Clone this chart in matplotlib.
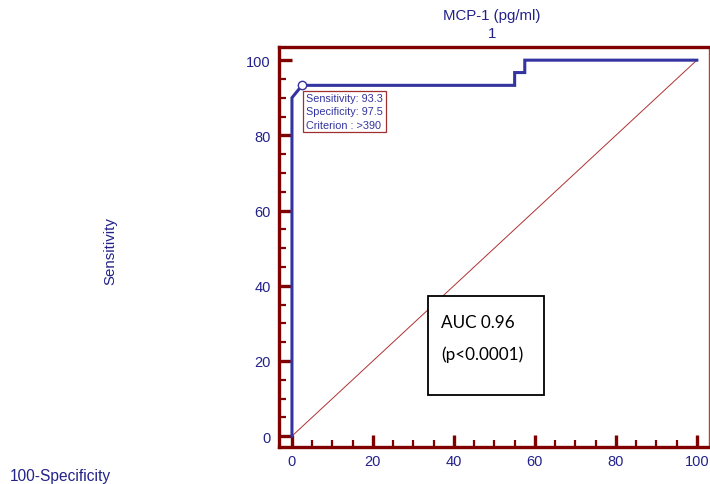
import numpy as np
import matplotlib.pyplot as plt
from matplotlib.ticker import MultipleLocator
from matplotlib.patches import Rectangle

plt.rcParams['font.family'] = ['Liberation Sans', 'DejaVu Sans']

# ROC curve points (100-Specificity, Sensitivity)
fpr = [0, 0, 2.5, 55, 55, 57.5, 57.5, 100]
tpr = [0, 90, 93.3, 93.3, 96.7, 96.7, 100, 100]

# optimal criterion point
crit_x = 2.5
crit_y = 93.3
crit_lines = ["Sensitivity: 93.3", "Specificity: 97.5", "Criterion : >390"]
auc_lines = ["AUC 0.96", "(p<0.0001)"]

blue = '#3434A0'
dred = '#800000'
lab_col = '#22228A'

fig = plt.figure(figsize=(7.1, 4.85), dpi=100)
ax = fig.add_axes([279/710, 1 - 448/485, 430/710, 400/485])

# diagonal reference line
ax.plot([0, 100], [0, 100], color='#B03030', lw=0.7)
# ROC curve
ax.plot(fpr, tpr, color=blue, lw=2.2, solid_joinstyle='miter')
ax.plot(crit_x, crit_y, 'o', mfc='white', mec=blue, ms=6, mew=1.0)

ax.set_xlim(-3.2, 103)
ax.set_ylim(-2.9, 103.5)

ax.xaxis.set_major_locator(MultipleLocator(20))
ax.xaxis.set_minor_locator(MultipleLocator(5))
ax.yaxis.set_major_locator(MultipleLocator(20))
ax.yaxis.set_minor_locator(MultipleLocator(5))
ax.tick_params(axis='both', which='major', direction='in', length=9, width=2.4,
               color=dred, labelcolor=lab_col, labelsize=10.5, pad=6)
ax.tick_params(axis='both', which='minor', direction='in', length=5, width=1.6, color=dred)
ax.tick_params(axis='x', which='major', pad=5)
ax.tick_params(top=False, right=False, which='both')

for s in ['left', 'bottom', 'top']:
    ax.spines[s].set_color(dred)
    ax.spines[s].set_linewidth(2.4)
ax.spines['right'].set_color('#A04848')
ax.spines['right'].set_linewidth(1.0)

# criterion annotation box
ax.text(3.5, 91.2, "\n".join(crit_lines), color=blue, fontsize=7.8, va='top', ha='left',
        linespacing=1.4,
        bbox=dict(boxstyle='square,pad=0.25', fc='white', ec='#A03030', lw=0.9))

# AUC box
ax.add_patch(Rectangle((33.6, 10.9), 28.6, 26.3, fc='white', ec='black', lw=1.3, zorder=3))
ax.text(36.8, 30.3, auc_lines[0], color='black', fontsize=12.3, va='center', ha='left',
        family='Lato', zorder=4)
ax.text(36.8, 21.8, auc_lines[1], color='black', fontsize=12.3, va='center', ha='left',
        family='Lato', zorder=4)

fig.text(492/710, 1 - 16/485, "MCP-1 (pg/ml)", color=lab_col, fontsize=10.8, ha='center', va='center')
fig.text(492/710, 1 - 34/485, "1", color=lab_col, fontsize=10.8, ha='center', va='center')
fig.text(110/710, 1 - 251/485, "Sensitivity", color=lab_col, fontsize=10.8, ha='center', va='center',
         rotation=90)
fig.text(10/710, 1 - 477/485, "100-Specificity", color=lab_col, fontsize=11.2, ha='left', va='center')

fig.savefig('out.png', dpi=100)
